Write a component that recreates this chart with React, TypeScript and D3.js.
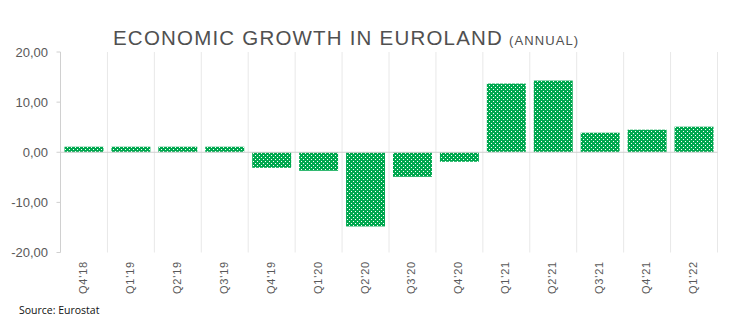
import React from "react";
import * as d3 from "d3";

const categories = ["Q4'18", "Q1'19", "Q2'19", "Q3'19", "Q4'19", "Q1'20", "Q2'20", "Q3'20", "Q4'20", "Q1'21", "Q2'21", "Q3'21", "Q4'21", "Q1'22"];
const values = [1.1, 1.1, 1.1, 1.1, -3.1, -3.7, -14.8, -4.9, -1.9, 13.7, 14.3, 3.9, 4.5, 5.1];
const yTicks = [20, 10, 0, -10, -20];

const W = 734;
const H = 333;
const left = 60.5;
const right = 717.5;
const top = 52;
const bottom = 252.5;

export default function App() {
  const x = d3.scaleBand<string>().domain(categories).range([left, right]).paddingInner(0.17).paddingOuter(0.085);
  const xb = d3.scaleBand<string>().domain(categories).range([left, right]);
  const y = d3.scaleLinear().domain([-20, 20]).range([bottom, top]);
  const fmt = (v: number) => d3.format(".2f")(v).replace(".", ",").replace("−", "-");
  const green = "#00a84f";
  return (
    <svg width={W} height={H} style={{ position: "absolute", left: 0, top: 0, background: "#fff" }}>
      <defs>
        <pattern id="dots" width="4" height="4" patternUnits="userSpaceOnUse">
          <rect width="4" height="4" fill={green} />
          <rect x="1" y="1" width="1" height="1" fill="#ffffff" />
          <rect x="3" y="3" width="1" height="1" fill="#ffffff" />
        </pattern>
      </defs>
      <text x={113} y={44.5} fontFamily="Liberation Sans, Arial, sans-serif" fontSize={20.5} fill="#505050" letterSpacing={1.2}>
        ECONOMIC GROWTH IN EUROLAND
        <tspan fontSize={13} dx={6} letterSpacing={1.1}>(ANNUAL)</tspan>
      </text>
      {categories.slice(1).map((c) => (
        <line key={c} x1={xb(c)!} x2={xb(c)!} y1={top} y2={bottom} stroke="#e8e8e8" strokeWidth={1} />
      ))}
      <line x1={right} x2={right} y1={top} y2={bottom} stroke="#e8e8e8" strokeWidth={1} />
      <line x1={left} x2={left} y1={top} y2={bottom} stroke="#d0d0d0" strokeWidth={1} />
      {yTicks.map((t) => (
        <g key={t}>
          <line x1={left - 4} x2={left} y1={y(t)} y2={y(t)} stroke="#d0d0d0" />
          <text x={48} y={y(t)} dy="0.35em" textAnchor="end" fontFamily="Liberation Sans, Arial, sans-serif" fontSize={13} fill="#595959">
            {fmt(t)}
          </text>
        </g>
      ))}
      {categories.map((c, i) => {
        const v = values[i];
        return (
          <rect key={c} x={x(c)!} width={x.bandwidth()} y={y(Math.max(0, v))} height={Math.abs(y(v) - y(0))} fill="url(#dots)" />
        );
      })}
      <line x1={left} x2={right} y1={y(0)} y2={y(0)} stroke="#d0d0d0" strokeWidth={1} />
      {categories.map((c) => {
        const cx = xb(c)! + xb.bandwidth() / 2;
        return (
          <text key={c} transform={`translate(${cx + 3},${261}) rotate(-90)`} textAnchor="end" fontFamily="Liberation Sans, Arial, sans-serif" fontSize={11} fill="#595959" letterSpacing={0.8}>
            {c}
          </text>
        );
      })}
      <text x={19} y={314} fontFamily="Open Sans, Liberation Sans, sans-serif" fontSize={10.5} fill="#111">
        Source: Eurostat
      </text>
    </svg>
  );
}
